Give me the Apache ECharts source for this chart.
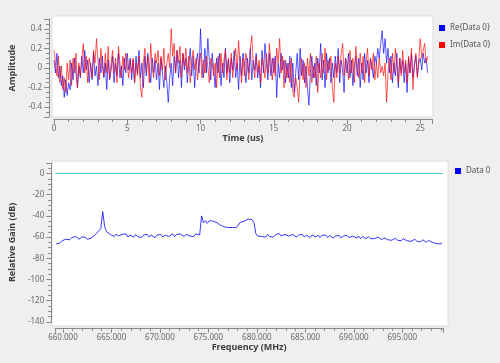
<!DOCTYPE html>
<html>
<head>
<meta charset="utf-8">
<script src="https://cdn.jsdelivr.net/npm/echarts@6/dist/echarts.min.js"></script>
<style>
html,body{margin:0;padding:0;background:#f0efee;}
#c{width:500px;height:363px;}
</style>
</head>
<body>
<div id="c"></div>
<script>
// ---- Time domain data (us), sample step 0.1 us ----
var timeStart = 0, timeStep = 0.1;
var reData = [
 0.08,-0.05,0.15,-0.1,0.02,-0.18,-0.08,-0.3,-0.12,-0.28,
 -0.15,-0.22,0.05,-0.12,0.1,-0.05,-0.2,0.02,-0.1,0.12,
 -0.05,0.18,-0.02,0.08,-0.15,0.05,-0.12,0.15,-0.08,0.02,
 -0.18,0.1,-0.05,0.12,-0.1,0.05,-0.22,0.08,-0.12,-0.02,
 0.12,-0.15,0.05,-0.08,0.15,-0.1,0.02,-0.18,0.1,-0.05,
 0.15,-0.02,0.1,-0.12,0.08,-0.15,0.12,-0.05,0.18,-0.1,
 0.05,-0.2,0.12,-0.08,0.15,0.02,-0.15,0.1,-0.05,0.08,
 -0.12,0.05,-0.22,0.1,-0.05,-0.2,0.02,-0.15,-0.35,-0.1,
 0.05,-0.18,0.12,-0.05,0.18,-0.1,0.08,-0.2,0.15,-0.02,
 0.1,-0.15,0.05,0.2,-0.08,0.12,-0.2,0.05,0.15,-0.05,
 0.4,0.05,-0.1,0.2,-0.05,0.3,0.08,-0.12,0.15,-0.02,
 -0.2,0.1,-0.05,0.15,-0.18,0.05,-0.1,0.2,-0.05,0.08,
 -0.15,0.1,-0.02,0.18,-0.1,0.05,-0.22,0.12,-0.08,0.15,
 0.05,-0.15,0.1,-0.05,0.2,-0.12,0.08,-0.02,0.15,-0.1,
 0.02,-0.2,0.18,-0.05,0.25,0.05,-0.12,0.15,-0.08,0.1,
 -0.05,0.12,-0.3,0.05,-0.1,0.15,-0.02,0.08,-0.15,0.05,
 -0.1,0.12,-0.2,0.05,-0.25,-0.05,0.15,-0.12,0.2,-0.08,
 0.08,-0.15,0.02,-0.2,-0.38,-0.05,0.12,-0.1,0.05,-0.18,
 0.1,-0.05,0.25,-0.12,0.08,-0.2,0.15,-0.05,0.1,-0.15,
 0.05,-0.1,0.12,-0.05,0.2,-0.15,0.08,-0.02,-0.25,0.1,
 -0.05,0.15,-0.1,0.08,-0.18,0.02,0.12,-0.08,0.1,-0.2,
 0.05,-0.12,0.15,-0.05,0.08,-0.15,0.1,0.02,-0.1,0.12,
 0.05,0.2,0.1,0.25,0.38,0.15,0.3,0.05,0.2,-0.05,
 0.12,-0.15,0.05,-0.08,0.15,-0.2,0.1,-0.05,0.08,-0.15,
 0.05,-0.25,0.1,-0.05,0.15,-0.1,0.02,0.12,-0.08,0.05,
 0.1,-0.02,0.15,0.05,0.1,-0.05
];
var imData = [
 0.18,0.05,-0.08,0.12,-0.15,0.02,-0.22,-0.1,-0.25,0.05,
 -0.12,0.08,-0.18,0.1,-0.05,0.15,-0.2,0.05,-0.08,0.1,
 0.25,-0.05,0.12,-0.15,0.1,0.02,-0.1,0.18,0.05,0.3,
 0.08,-0.12,0.2,0.02,-0.08,0.15,-0.05,0.22,-0.1,0.05,
 0.18,-0.05,0.1,-0.15,0.22,0.05,-0.1,0.12,-0.02,0.15,
 0.02,-0.1,0.08,-0.05,0.1,-0.15,0.05,-0.08,0.12,-0.2,
 -0.3,0.05,0.2,-0.05,0.12,-0.15,0.25,0.02,-0.1,0.15,
 0.05,0.18,-0.08,0.12,-0.02,0.2,-0.12,0.05,0.15,0.0,
 0.4,0.12,0.25,-0.05,0.18,0.05,0.22,-0.1,0.15,0.02,
 0.2,-0.05,0.12,-0.15,0.08,0.18,-0.02,0.1,-0.12,0.05,
 0.15,-0.1,0.08,-0.05,0.12,0.02,-0.15,0.1,0.05,-0.08,
 0.05,-0.2,0.12,-0.1,0.15,-0.05,0.08,0.18,-0.12,0.1,
 -0.05,0.15,-0.1,0.08,0.2,-0.02,0.28,0.05,-0.15,0.1,
 -0.08,0.15,0.02,-0.12,0.2,0.33,0.05,-0.1,0.12,-0.05,
 0.08,-0.15,0.1,0.02,-0.1,0.15,-0.05,0.25,0.05,-0.12,
 0.1,-0.08,0.2,0.05,0.3,-0.05,0.12,-0.2,0.08,-0.1,
 0.05,-0.15,0.1,-0.25,-0.3,-0.1,-0.2,-0.35,-0.05,0.1,
 -0.12,0.05,-0.2,0.1,-0.08,0.15,-0.15,0.02,-0.1,0.12,
 -0.25,0.05,-0.1,0.15,-0.05,0.2,-0.12,0.08,-0.02,0.12,
 -0.2,-0.35,0.05,-0.1,0.12,-0.05,0.15,0.25,-0.08,0.1,
 0.05,-0.12,0.18,-0.05,0.1,-0.15,0.22,0.02,-0.1,0.15,
 -0.05,0.12,-0.15,0.05,0.2,-0.08,0.1,-0.02,0.15,-0.12,
 0.05,-0.1,0.1,-0.05,0.02,-0.08,0.05,-0.35,-0.05,0.1,
 -0.12,0.15,-0.05,0.2,0.02,-0.15,0.1,-0.08,0.18,-0.05,
 0.08,-0.15,0.12,-0.05,0.2,-0.22,0.05,0.15,-0.1,0.1,
 0.3,0.1,0.18,0.25,0.05,0.12
];
var timeTicks = [0, 5, 10, 15, 20, 25];

// ---- Frequency domain data (MHz), bin step 0.2 MHz ----
var freqStart = 659.3, freqStep = 0.2;
var freqMin = 659.2, freqMax = 699.2;
var gainData = [
 -66.5,-65,-65.5,-63.5,-64,-62,-61,-62.5,-60.5,-61.5,
 -59.5,-61,-62,-60,-61.5,-60,-62,-60.5,-61,-59.5,
 -58,-56.5,-54,-52,-36,-50,-55,-56,-57.5,
 -57.5,-59.5,-57,-59,-60,-57.5,-59,-57,-60,-58,
 -58,-60,-57.5,-59.5,-58,-60.5,-58,-59.5,-57.5,-60,
 -58,-59.5,-60.5,-58,-59.5,-57.5,-60,-58,-57.5,-59.5,
 -58,-57,-59.5,-57.5,-59,-57,-58.5,-59.5,-57.5,-57,
 -59,-57.5,-59.5,-57,-58.5,-58,
 -40,-46.5,-44.5,-47,-44.5,-44,-45,-45,-46.5,-46.5,
 -49,-48.5,-50.5,-49,-51,-50.5,-51,-52.5,-51,-52.5,
 -46,-45.5,-45,-44.5,-43,-42,-43.5,-46,-57,
 -59,-57.5,-59.5,-58,-60,-57.5,-59.5,-58,-60,-58,
 -57.5,-56.5,-59,-59.5,-57.5,-56.5,-59,-59.5,-57.5,-59,
 -60,-58,-59.5,-57.5,-60,-58,-59.5,-60.5,-58,-59.5,
 -60,-58,-60.5,-58.5,-60,-58,-60.5,-58.5,-60,-61,
 -59,-60.5,-58.5,-61,-59,-60.5,-58.5,-60.5,-61,-59,
 -60.5,-61,-59,-61.5,-59.5,-61,-61.5,-59.5,-61.5,-60,
 -61.5,-62,-60,-61.5,-62.5,-60.5,-62,-62.5,-61,-63,
 -62.5,-61,-63,-61.5,-63.5,-61.5,-63,-63.5,-62,-64,
 -63.5,-62,-64,-62.5,-64.5,-62.5,-64,-65,-63,-64.5,
 -65,-63.5,-66,-65.5,-66.5,-65.5
];
var refLevel = 0;

var reSeries = reData.map(function(v,i){ return [+(timeStart + i*timeStep).toFixed(3), v]; });
var imSeries = imData.map(function(v,i){ return [+(timeStart + i*timeStep).toFixed(3), v]; });
var gainSeries = gainData.map(function(v,i){ return [+(freqStart + i*freqStep).toFixed(3), v]; });
var refSeries = [[freqMin, refLevel], [freqMax, refLevel]];

var FONT = 'Noto Sans';
var tickLabel = {color:'#6a6a6a', fontSize:8, fontFamily:FONT};
var axisLine = {show:true, onZero:false, lineStyle:{color:'#8a8a8a', width:1}};
var axisTick = {show:true, length:5, lineStyle:{color:'#8a8a8a'}};
var nameStyle = {color:'#3c3c3c', fontSize:9, fontWeight:'bold', fontFamily:FONT};
var refLineColor = '#4cc4d0';

var chart = echarts.init(document.getElementById('c'), null, {renderer:'canvas'});
chart.setOption({
  backgroundColor:'#f0efee',
  animation:false,
  graphic:[
    {type:'rect', shape:{x:52,y:16,width:381,height:101}, style:{fill:'#ffffff', stroke:'#dcdcdc', lineWidth:1}, z:-10},
    {type:'rect', shape:{x:52,y:161,width:396,height:165}, style:{fill:'#ffffff', stroke:'#dcdcdc', lineWidth:1}, z:-10}
  ],
  legend:[
    {orient:'vertical', left:434, top:19, itemWidth:6, itemHeight:6, itemGap:9, icon:'rect',
     textStyle:{color:'#555', fontSize:8, fontFamily:FONT}, data:['Re{Data 0}','Im{Data 0}']},
    {orient:'vertical', left:450, top:162, itemWidth:6, itemHeight:6, icon:'rect',
     textStyle:{color:'#555', fontSize:8, fontFamily:FONT}, data:['Data 0']}
  ],
  grid:[
    {left:54, top:19, width:378, height:98},
    {left:54, top:162.9, width:389, height:159}
  ],
  xAxis:[
    {gridIndex:0, type:'value', min:0, max:25.8, interval:5, offset:2,
     name:'Time (us)', nameLocation:'middle', nameGap:15, nameTextStyle:nameStyle,
     axisLine:axisLine, axisTick:axisTick, minorTick:{show:true, splitNumber:5, length:3, lineStyle:{color:'#8a8a8a'}},
     splitLine:{show:false}, axisLabel:Object.assign({margin:6, showMaxLabel:false, formatter:function(v){return timeTicks.indexOf(v)>=0? String(v):'';}}, tickLabel)},
    {gridIndex:1, type:'value', min:freqMin, max:freqMax, splitNumber:8, offset:6,
     name:'Frequency (MHz)', nameLocation:'middle', nameGap:15, nameTextStyle:nameStyle,
     axisLine:axisLine, axisTick:axisTick, minorTick:{show:true, splitNumber:5, length:3, lineStyle:{color:'#8a8a8a'}},
     splitLine:{show:false}, axisLabel:Object.assign({margin:6, showMinLabel:false, showMaxLabel:false, formatter:function(v){return (Math.abs(v/5-Math.round(v/5))<1e-6)? v.toFixed(3):'';}}, tickLabel)}
  ],
  yAxis:[
    {gridIndex:0, type:'value', min:-0.5, max:0.5, splitNumber:5, offset:5,
     name:'Amplitude', nameLocation:'middle', nameGap:24, nameTextStyle:nameStyle,
     axisLine:axisLine, axisTick:axisTick, minorTick:{show:true, splitNumber:4, length:3, lineStyle:{color:'#8a8a8a'}},
     splitLine:{show:false}, axisLabel:Object.assign({margin:7, showMinLabel:false, showMaxLabel:false, formatter:function(v){var r=Math.round(v*10)/10; return (Math.abs(r*5-Math.round(r*5))<1e-6)? String(r):'';}}, tickLabel)},
    {gridIndex:1, type:'value', min:-140, max:10, interval:20, offset:4,
     name:'Relative Gain (dB)', nameLocation:'middle', nameGap:26, nameTextStyle:nameStyle,
     axisLine:axisLine, axisTick:axisTick, minorTick:{show:true, splitNumber:4, length:3, lineStyle:{color:'#8a8a8a'}},
     splitLine:{show:false}, axisLabel:Object.assign({margin:7, showMaxLabel:false}, tickLabel)}
  ],
  series:[
    {name:'Re{Data 0}', type:'line', xAxisIndex:0, yAxisIndex:0, data:reSeries, showSymbol:false, symbol:'none',
     itemStyle:{color:'#0000ff'}, lineStyle:{color:'rgba(0,0,255,0.65)', width:1}},
    {name:'Im{Data 0}', type:'line', xAxisIndex:0, yAxisIndex:0, data:imSeries, showSymbol:false, symbol:'none',
     itemStyle:{color:'#ff0000'}, lineStyle:{color:'rgba(255,0,0,0.65)', width:1}},
    {name:'ref', type:'line', xAxisIndex:1, yAxisIndex:1, data:refSeries, showSymbol:false, symbol:'none', silent:true,
     color:refLineColor, itemStyle:{color:refLineColor}, lineStyle:{color:refLineColor, width:1.2, type:'solid'}},
    {name:'Data 0', type:'line', xAxisIndex:1, yAxisIndex:1, data:gainSeries, showSymbol:false, symbol:'none',
     itemStyle:{color:'#0000ff'}, lineStyle:{color:'rgba(20,20,255,0.85)', width:1}}
  ]
});
</script>
</body>
</html>
